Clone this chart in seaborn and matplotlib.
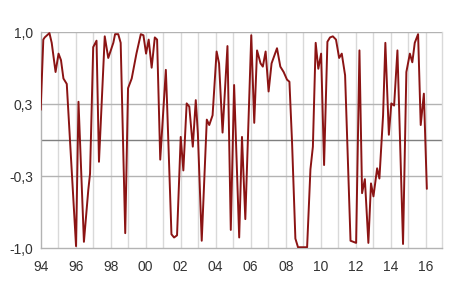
import matplotlib
matplotlib.use("Agg")
import matplotlib.pyplot as plt
import seaborn as sns
import pandas as pd
import numpy as np

# Time (decimal years) and indicator values
years = [1994.00, 1994.15, 1994.23, 1994.50, 1994.63, 1994.85, 1995.02, 1995.16, 1995.30, 1995.49,
         1996.02, 1996.16, 1996.47, 1996.72, 1996.82, 1997.00, 1997.19, 1997.33, 1997.66, 1997.86,
         1998.15, 1998.25, 1998.43, 1998.57, 1998.83, 1998.99, 1999.20, 1999.47, 1999.72, 1999.87,
         2000.02, 2000.17, 2000.34, 2000.52, 2000.65, 2000.83, 2001.15, 2001.22, 2001.47, 2001.62,
         2001.79, 2002.00, 2002.15, 2002.34, 2002.49, 2002.69, 2002.86, 2002.98, 2003.20, 2003.49,
         2003.63, 2003.82, 2004.05, 2004.19, 2004.39, 2004.67, 2004.86, 2005.05, 2005.34, 2005.50,
         2005.69, 2006.03, 2006.20, 2006.36, 2006.56, 2006.69, 2006.85, 2007.02, 2007.19, 2007.50,
         2007.69, 2007.88, 2008.07, 2008.21, 2008.36, 2008.55, 2008.70, 2009.22, 2009.41, 2009.55,
         2009.71, 2009.86, 2010.02, 2010.19, 2010.38, 2010.53, 2010.69, 2010.87, 2011.05, 2011.20,
         2011.39, 2011.70, 2012.02, 2012.21, 2012.36, 2012.52, 2012.72, 2012.87, 2013.01, 2013.22,
         2013.35, 2013.56, 2013.69, 2013.89, 2014.03, 2014.19, 2014.38, 2014.70, 2014.89, 2015.09,
         2015.23, 2015.37, 2015.56, 2015.71, 2015.89, 2016.06]
values = [0.28, 0.93, 0.95, 0.99, 0.90, 0.63, 0.80, 0.74, 0.57, 0.52,
          -0.98, 0.355, -0.94, -0.46, -0.31, 0.86, 0.92, -0.20, 0.96, 0.76,
          0.90, 0.98, 0.98, 0.90, -0.86, 0.48, 0.57, 0.80, 0.98, 0.97,
          0.80, 0.93, 0.67, 0.95, 0.93, -0.18, 0.65, 0.34, -0.87, -0.90,
          -0.88, 0.03, -0.28, 0.34, 0.31, -0.06, 0.37, 0.06, -0.93, 0.19,
          0.14, 0.23, 0.82, 0.71, 0.07, 0.87, -0.83, 0.51, -0.90, 0.03,
          -0.73, 0.97, 0.16, 0.83, 0.71, 0.68, 0.82, 0.45, 0.71, 0.85,
          0.68, 0.63, 0.56, 0.54, -0.02, -0.91, -0.99, -0.99, -0.27, -0.06,
          0.90, 0.66, 0.80, -0.23, 0.91, 0.95, 0.96, 0.93, 0.76, 0.80,
          0.60, -0.93, -0.95, 0.83, -0.49, -0.36, -0.95, -0.40, -0.52, -0.26,
          -0.355, 0.23, 0.90, 0.05, 0.34, 0.32, 0.83, -0.96, 0.63, 0.80,
          0.72, 0.90, 0.98, 0.14, 0.43, -0.45]

xtick_years = list(range(1994, 2017, 2))
xtick_labels = ["94", "96", "98", "00", "02", "04", "06", "08", "10", "12", "14", "16"]
ytick_pos = [-1.0, -1/3, 1/3, 1.0]
ytick_labels = ["-1,0", "-0,3", "0,3", "1,0"]

df = pd.DataFrame({"year": years, "value": values})

sns.set_style("white")
plt.rcParams["font.family"] = ["Liberation Sans", "DejaVu Sans"]

fig = plt.figure(figsize=(4.5, 2.91), dpi=100)
ax = fig.add_axes([0.0904, 0.1467, 0.8912, 0.7433])

ax.set_xlim(1994, 2016.91)
ax.set_ylim(-1.0, 1.0)

# year gridlines
for yr in range(1995, 2017):
    ax.axvline(yr, color="#d9d9d9", lw=1.0, zorder=0)
for yv in [-1/3, 1/3, 1.0]:
    ax.axhline(yv, color="#b3b3b3", lw=1.0, zorder=0)
ax.axhline(0, color="#7f7f7f", lw=1.0, zorder=1)

sns.lineplot(data=df, x="year", y="value", ax=ax, color="#8b1414", lw=1.4, zorder=3)

ax.set_xticks(xtick_years)
ax.set_xticklabels(xtick_labels)
ax.set_yticks(ytick_pos)
ax.set_yticklabels(ytick_labels)
ax.set_xlabel("")
ax.set_ylabel("")
ax.tick_params(axis="both", labelsize=10, colors="#333333", length=2.5, width=0.8,
               direction="out")
ax.tick_params(axis="x", pad=6)
ax.tick_params(axis="y", pad=3)
ax.tick_params(axis="x", color="#b3b3b3")
ax.tick_params(axis="y", color="#b3b3b3")

for side in ["left", "bottom"]:
    ax.spines[side].set_color("#b3b3b3")
    ax.spines[side].set_linewidth(1.0)
ax.spines["top"].set_visible(False)
ax.spines["right"].set_color("#d9d9d9")
ax.spines["right"].set_linewidth(1.0)

fig.savefig("out.png", dpi=100)
